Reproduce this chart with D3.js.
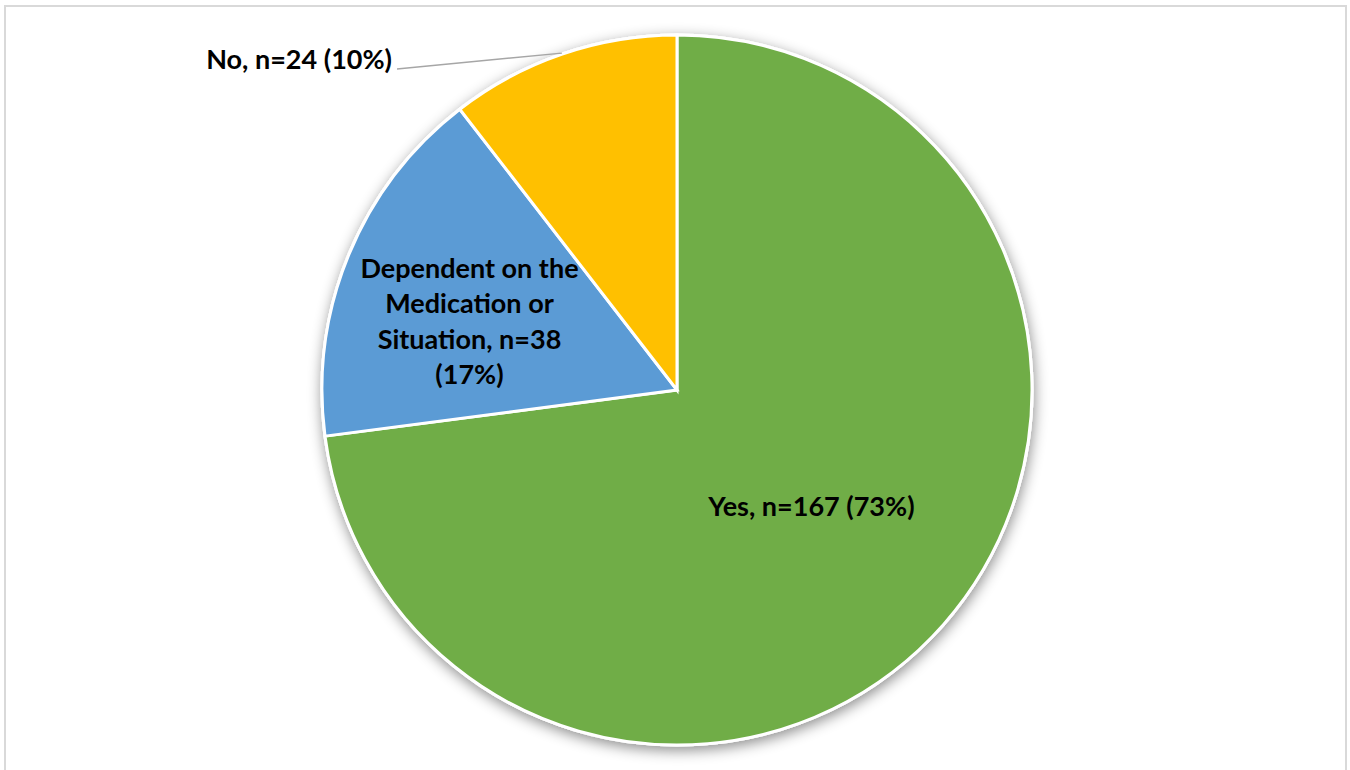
<!DOCTYPE html>
<html>
<head>
<meta charset="utf-8">
<script src="https://cdn.jsdelivr.net/npm/d3@7"></script>
<style>
  html, body { margin: 0; padding: 0; background: #fff; }
  svg { display: block; }
</style>
</head>
<body>
<svg id="chart" width="1350" height="770"></svg>
<script>
// ---- Data ----
const categories = ["Yes", "Dependent on the Medication or Situation", "No"];
const counts = [167, 38, 24];
const percentLabels = ["73%", "17%", "10%"];
const labelLines = [
  ["Yes, n=167 (73%)"],
  ["Dependent on the", "Medication or", "Situation, n=38", "(17%)"],
  ["No, n=24 (10%)"]
];
const colors = ["#70AD47", "#5B9BD5", "#FFC000"];

// ---- Layout ----
const W = 1350, H = 770;
const cx = 677, cy = 390, R = 355;
const svg = d3.select("#chart");

// frame
svg.append("rect")
  .attr("x", 5).attr("y", 6)
  .attr("width", 1341).attr("height", 780)
  .attr("fill", "#fff")
  .attr("stroke", "#d9d9d9").attr("stroke-width", 2);

const defs = svg.append("defs");
const f = defs.append("filter").attr("id", "shadow")
  .attr("x", "-10%").attr("y", "-10%").attr("width", "120%").attr("height", "120%");
f.append("feDropShadow")
  .attr("dx", 1).attr("dy", 4).attr("stdDeviation", 7)
  .attr("flood-color", "#000").attr("flood-opacity", 0.45);

const pie = d3.pie().sort(null).value(d => d)(counts);
const arc = d3.arc().innerRadius(0).outerRadius(R);

const g = svg.append("g").attr("transform", `translate(${cx},${cy})`);

// shadow layer
g.append("circle").attr("r", R + 1.5).attr("fill", "#fff").attr("filter", "url(#shadow)");

g.selectAll("path.slice").data(pie).enter().append("path")
  .attr("class", "slice")
  .attr("d", arc)
  .attr("fill", (d, i) => colors[i])
  .attr("stroke", "#fff").attr("stroke-width", 3)
  .attr("stroke-linejoin", "miter");

// label placement (angle-based, radius fractions)
const fontFamily = "Lato, 'Open Sans', sans-serif";
const fs = 27;
const lineH = 35.5;

function polar(angle, r) {
  return [Math.sin(angle) * r, -Math.cos(angle) * r];
}

// Yes label: centroid at r/2
{
  const d = pie[0];
  const [x, y] = arc.centroid(d);
  g.append("text")
    .attr("x", x + 1).attr("y", y + 9)
    .attr("text-anchor", "middle")
    .attr("font-family", fontFamily).attr("font-weight", 700)
    .attr("font-size", fs).attr("fill", "#000")
    .text(labelLines[0][0]);
}

// Dependent label: inside, shifted outward
{
  const d = pie[1];
  const mid = (d.startAngle + d.endAngle) / 2 - 0.075;
  const [x, y] = polar(mid, R * 0.615);
  const lines = labelLines[1];
  const t = g.append("text")
    .attr("text-anchor", "middle")
    .attr("font-family", fontFamily).attr("font-weight", 700)
    .attr("font-size", fs).attr("fill", "#000");
  lines.forEach((ln, i) => {
    t.append("tspan")
      .attr("x", x)
      .attr("y", y - (lines.length - 1) * lineH / 2 + i * lineH + 9)
      .text(ln);
  });
}

// No label: outside with leader line
{
  const d = pie[2];
  const mid = (d.startAngle + d.endAngle) / 2;
  const [ex, ey] = polar(mid, R + 1);
  const lx = 397 - cx, ly = 69 - cy;
  g.append("line")
    .attr("x1", ex).attr("y1", ey).attr("x2", lx).attr("y2", ly)
    .attr("stroke", "#a6a6a6").attr("stroke-width", 1.5);
  g.append("text")
    .attr("x", lx - 5).attr("y", ly)
    .attr("text-anchor", "end")
    .attr("font-family", fontFamily).attr("font-weight", 700)
    .attr("font-size", fs).attr("fill", "#000")
    .text(labelLines[2][0]);
}
</script>
</body>
</html>
